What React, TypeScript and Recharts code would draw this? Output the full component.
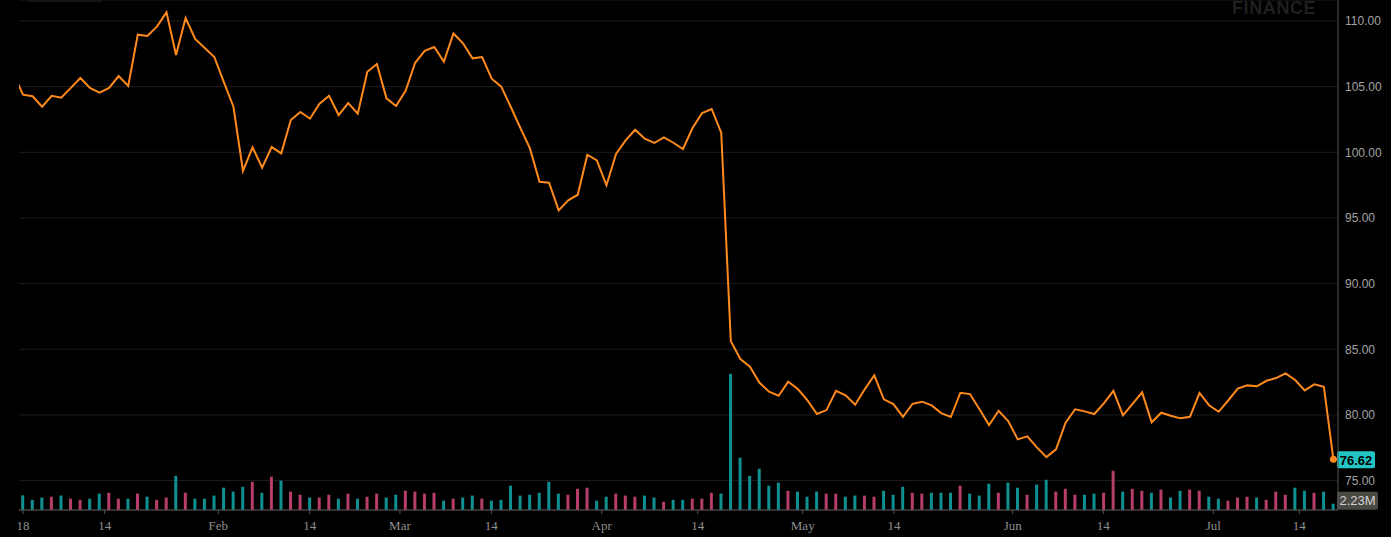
import {
  Bar,
  CartesianGrid,
  Cell,
  ComposedChart,
  Line,
  ReferenceLine,
  XAxis,
  YAxis,
} from "recharts";

// close of the session before the first visible one (line enters from the left edge)
const prevClose = 106.0;

const closes = [
  104.39, 104.27, 103.47, 104.31, 104.16, 104.91, 105.66, 104.9, 104.54, 104.9,
  105.81, 105.05, 108.96, 108.86, 109.57, 110.66, 107.41, 110.23, 108.63, 107.94,
  107.26, 105.35, 103.47, 98.58, 100.38, 98.83, 100.4, 99.92, 102.46, 103.07,
  102.56, 103.7, 104.31, 102.84, 103.75, 102.94, 106.14, 106.73, 104.11, 103.53,
  104.69, 106.82, 107.72, 108.02, 106.9, 109.05, 108.3, 107.16, 107.26, 105.61,
  105.0, 103.45, 101.85, 100.3, 97.76, 97.68, 95.58, 96.34, 96.77, 99.82,
  99.39, 97.49, 99.87, 100.91, 101.72, 101.04, 100.71, 101.14, 100.73, 100.25,
  101.85, 102.99, 103.3, 101.49, 85.61, 84.26, 83.67, 82.45, 81.77, 81.46,
  82.53, 81.97, 81.13, 80.07, 80.37, 81.84, 81.49, 80.78, 81.95, 83.02,
  81.19, 80.83, 79.86, 80.85, 81.01, 80.73, 80.14, 79.84, 81.69, 81.59,
  80.43, 79.23, 80.32, 79.54, 78.14, 78.37, 77.53, 76.79, 77.38, 79.41,
  80.43, 80.27, 80.07, 80.88, 81.84, 79.97, 80.85, 81.72, 79.44, 80.17,
  79.94, 79.74, 79.86, 81.67, 80.74, 80.24, 81.1, 82.0, 82.25, 82.18,
  82.6, 82.81, 83.17, 82.66, 81.87, 82.33, 82.15, 76.62,
];

// volume in millions
const volumes = [
  5.2, 3.6, 4.4, 4.7, 5.1, 4.0, 3.6, 4.0, 5.8, 6.1,
  4.0, 4.0, 5.8, 4.7, 3.6, 4.4, 12.1, 6.1, 4.0, 4.0,
  5.1, 7.9, 6.5, 8.2, 10.0, 6.1, 11.8, 10.4, 6.5, 5.4,
  4.4, 4.4, 5.4, 4.0, 5.8, 4.0, 4.7, 5.8, 4.4, 5.4,
  6.8, 6.5, 5.8, 6.1, 3.3, 4.0, 4.4, 5.1, 4.0, 3.3,
  3.6, 8.6, 5.1, 5.4, 6.1, 10.0, 5.8, 5.4, 7.5, 7.9,
  3.3, 4.7, 5.8, 5.1, 4.7, 5.1, 4.4, 2.9, 3.6, 3.6,
  4.0, 4.0, 6.1, 5.8, 48.2, 18.5, 12.1, 14.6, 8.6, 9.7,
  6.8, 6.5, 4.7, 6.5, 5.8, 5.8, 4.7, 5.1, 5.1, 4.7,
  6.8, 5.4, 8.2, 6.1, 5.8, 6.1, 6.1, 6.1, 8.6, 5.8,
  5.1, 9.3, 6.1, 9.7, 7.9, 5.4, 9.0, 10.7, 6.5, 7.5,
  5.4, 5.4, 5.8, 6.1, 13.9, 6.5, 7.5, 6.8, 6.1, 7.2,
  4.4, 6.8, 7.2, 6.8, 4.7, 4.0, 3.3, 4.4, 4.7, 4.4,
  3.6, 6.5, 5.4, 7.9, 6.8, 6.1, 6.5, 2.23,
];

// u = up session (teal), d = down session (pink)
const volumeDirection = (
  "uuududduud" + "dududduduu" + "uuuudududd" + "uddududduu" + "dddduduudu" +
  "uuuuuuuddd" + "uuddduuduu" + "ddduuuuuuu" + "duuudduudd" + "uuudduuudu" +
  "uuduuduudd" + "duudduddud" + "uudduudddu" + "ddduuduu"
).split("");

const tickPositions = [0, 8.54, 20.42, 29.97, 39.41, 48.96, 60.5, 70.54, 81.52, 91.06, 103.47, 112.95, 124.44, 133.44];
const tickLabels = ["18", "14", "Feb", "14", "Mar", "14", "Apr", "14", "May", "14", "Jun", "14", "Jul", "14"];
const priceTicks = [75, 80, 85, 90, 95, 100, 105, 110];

const data = [
  { i: -1, close: prevClose, volume: null as number | null, up: true },
  ...closes.map((close, i) => ({
    i,
    close,
    volume: volumes[i],
    up: volumeDirection[i] === "u",
  })),
];

const lastClose = closes[closes.length - 1];
const lastVolume = volumes[volumes.length - 1];

const ORANGE = "#ff8a1c";
const TEAL = "#0f9191";
const PINK = "#b63d6c";

function PriceTag(props: any) {
  const { x, y, width } = props.viewBox;
  const left = x + width - 1;
  return (
    <g>
      <rect x={left} y={y - 8} width={38} height={17} rx={2} fill="#22c4c4" />
      <text
        x={left + 19}
        y={y + 1}
        dy="0.35em"
        textAnchor="middle"
        fill="#000"
        fontSize={13}
        fontWeight={700}
        fontFamily="Liberation Sans, Arial, sans-serif"
      >
        {lastClose.toFixed(2)}
      </text>
    </g>
  );
}

function VolumeTag(props: any) {
  const { x, y, width } = props.viewBox;
  const left = x + width - 1;
  return (
    <g>
      <rect x={left} y={y - 12} width={41} height={18} rx={2} fill="#4a4944" />
      <text
        x={left + 20.5}
        y={y - 3}
        dy="0.35em"
        textAnchor="middle"
        fill="#d2d2d2"
        fontSize={13}
        fontFamily="Liberation Sans, Arial, sans-serif"
      >
        {lastVolume.toFixed(2)}M
      </text>
    </g>
  );
}

export default function App() {
  return (
    <div
      style={{
        position: "fixed",
        left: 0,
        top: 0,
        width: 1391,
        height: 537,
        background: "#000",
        overflow: "hidden",
      }}
    >
      <ComposedChart
        width={1391}
        height={537}
        data={data}
        margin={{ top: 0, right: 0, bottom: 0, left: 19 }}
      >
        <CartesianGrid
          yAxisId="price"
          vertical={false}
          stroke="#1d1d1d"
        />
        <XAxis
          dataKey="i"
          type="number"
          domain={[-0.418, 137.48]}
          allowDataOverflow
          ticks={tickPositions}
          interval={0}
          tickFormatter={(v) => tickLabels[tickPositions.indexOf(v)] ?? ""}
          height={27}
          tickSize={4}
          tickMargin={7}
          axisLine={{ stroke: "#555" }}
          tickLine={{ stroke: "#555" }}
          tick={{ fill: "#8e8e8e", fontSize: 13, fontFamily: "Liberation Serif, serif" }}
        />
        <YAxis
          yAxisId="price"
          orientation="right"
          width={53}
          domain={[72.76, 111.6]}
          allowDataOverflow
          ticks={priceTicks}
          interval={0}
          tickFormatter={(v) => Number(v).toFixed(2)}
          tickSize={0}
          tickMargin={7}
          axisLine={{ stroke: "#555" }}
          tickLine={false}
          tick={{ fill: "#a3a3a3", fontSize: 12, fontFamily: "Liberation Sans, Arial, sans-serif" }}
        />
        <YAxis yAxisId="vol" hide domain={[0, 180.5]} allowDataOverflow />
        <Bar yAxisId="vol" dataKey="volume" barSize={3} isAnimationActive={false}>
          {data.map((d) => (
            <Cell key={d.i} fill={d.up ? TEAL : PINK} />
          ))}
        </Bar>
        <Line
          yAxisId="price"
          type="linear"
          dataKey="close"
          stroke={ORANGE}
          strokeWidth={2}
          isAnimationActive={false}
          dot={(p: any) =>
            p.index === data.length - 1 ? (
              <circle key="last" cx={p.cx} cy={p.cy} r={3.5} fill={ORANGE} />
            ) : (
              <g key={p.index} />
            )
          }
          activeDot={false}
        />
        <ReferenceLine yAxisId="price" y={lastClose} stroke="none" label={PriceTag} />
        <ReferenceLine yAxisId="vol" y={lastVolume} stroke="none" label={VolumeTag} />
      </ComposedChart>
      <div
        style={{
          position: "absolute",
          left: 1232,
          top: -1,
          fontFamily: "Liberation Sans, Arial, sans-serif",
          fontWeight: 700,
          fontSize: 18,
          lineHeight: "18px",
          color: "#1f1f1f",
          letterSpacing: 0.6,
        }}
      >
        FINANCE
      </div>
      <div
        style={{
          position: "absolute",
          left: 28,
          top: 0,
          width: 74,
          height: 2,
          background: "#151515",
        }}
      />
    </div>
  );
}
